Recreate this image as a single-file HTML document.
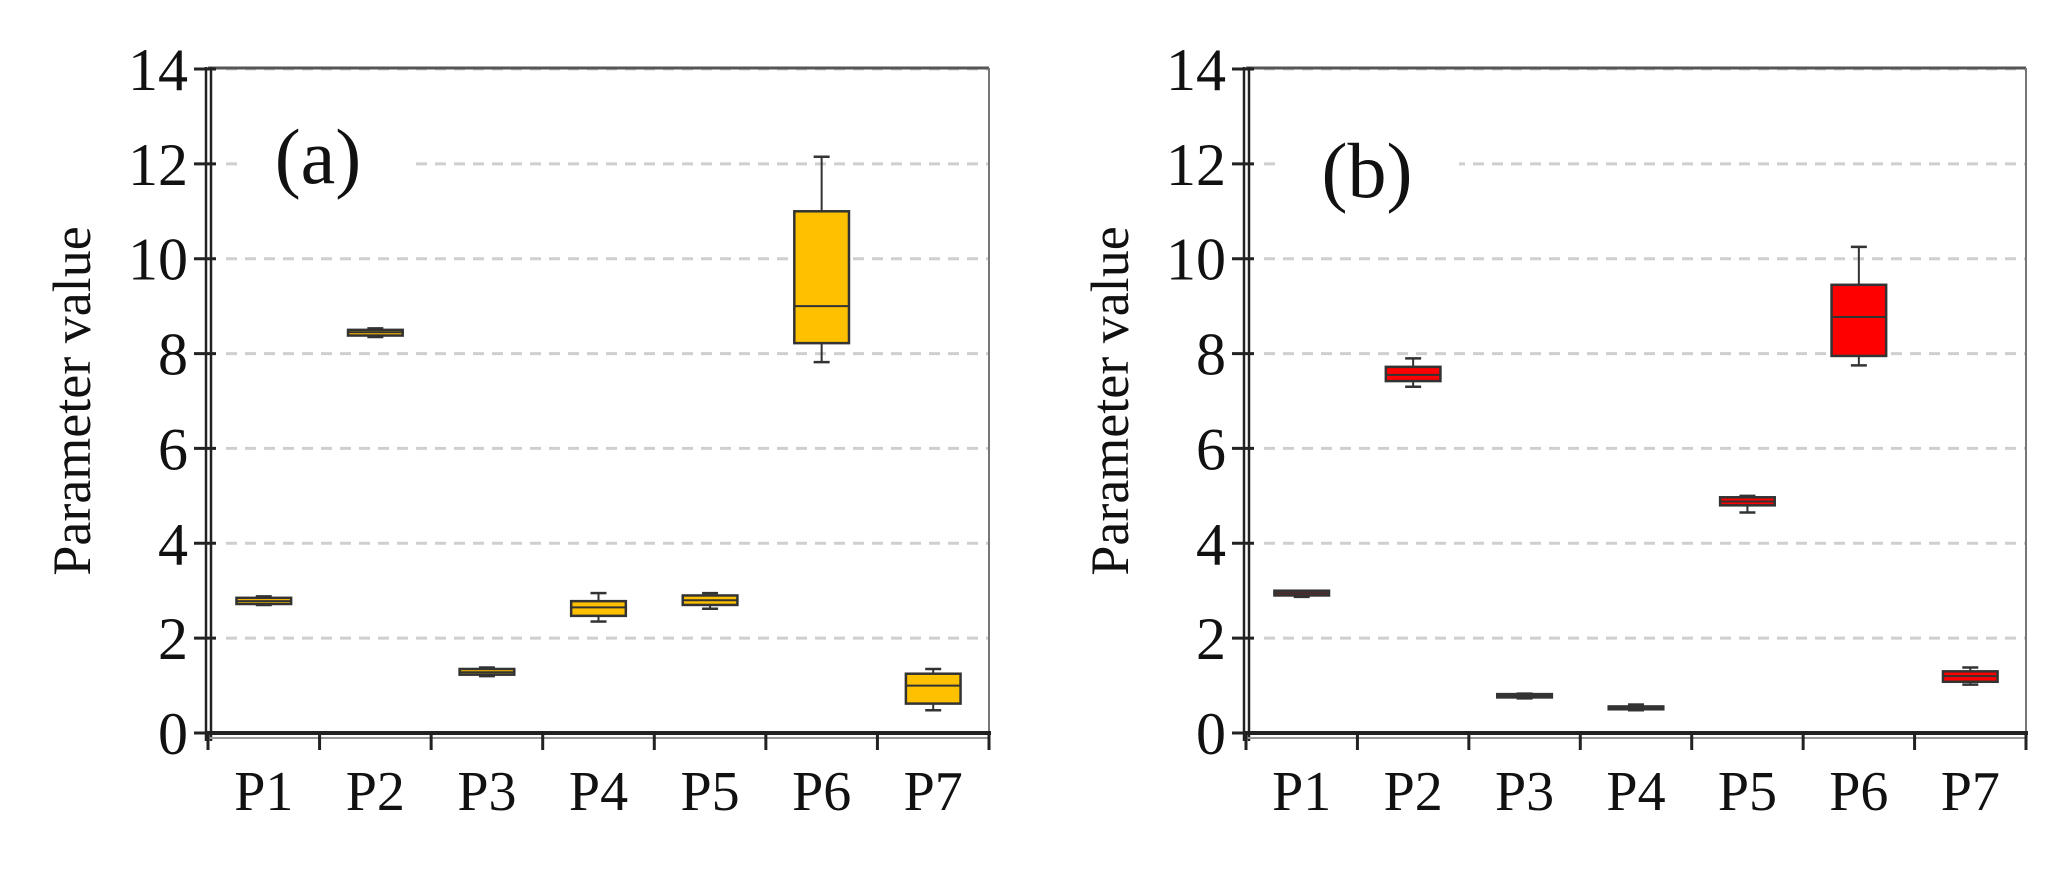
<!DOCTYPE html>
<html><head><meta charset="utf-8"><style>
html,body{margin:0;padding:0;background:#fff;}
svg{display:block;}
text{font-family:"Liberation Serif",serif;fill:#111;}
</style></head><body>
<svg id="fig" width="2067" height="887" viewBox="0 0 2067 887" xmlns="http://www.w3.org/2000/svg"></svg>
<script>
const categories = ["P1","P2","P3","P4","P5","P6","P7"];
const yTicks = [0,2,4,6,8,10,12,14];
// panel a: [whiskerLow, q1, median, q3, whiskerHigh]
const aLow  = [2.70, 8.35, 1.20, 2.35, 2.62, 7.82, 0.48];
const aQ1   = [2.72, 8.38, 1.23, 2.47, 2.70, 8.22, 0.62];
const aMed  = [2.78, 8.45, 1.28, 2.65, 2.80, 9.00, 1.00];
const aQ3   = [2.85, 8.50, 1.35, 2.78, 2.90, 11.00, 1.25];
const aHigh = [2.88, 8.53, 1.38, 2.95, 2.95, 12.15, 1.35];
// panel b
const bLow  = [2.87, 7.30, 0.73, 0.48, 4.65, 7.75, 1.02];
const bQ1   = [2.90, 7.42, 0.75, 0.50, 4.80, 7.95, 1.08];
const bMed  = [2.95, 7.55, 0.78, 0.53, 4.88, 8.77, 1.20];
const bQ3   = [3.00, 7.72, 0.82, 0.56, 4.97, 9.45, 1.30];
const bHigh = [3.00, 7.90, 0.83, 0.60, 5.00, 10.25, 1.38];

const NS="http://www.w3.org/2000/svg";
const svg=document.getElementById('fig');
function mk(tag,attrs,parent){const e=document.createElementNS(NS,tag);for(const k in attrs)e.setAttribute(k,attrs[k]);(parent||svg).appendChild(e);return e;}

function panel(key,x0,x1,label,labelX,labelY,maskX1,low,q1,med,q3,high,color){
  const g=mk('g',{});
  
  
  const yTop=69,yBot=733;
  const y=v=>yBot-(v/14)*(yBot-yTop);
  const bw=(x1-x0)/categories.length;
  const x=i=>x0+bw*(i+0.5);
  yTicks.forEach(t=>{ if(t===0)return;
    const l=mk('line',{x1:x0+18,x2:x1,y1:y(t),y2:y(t),stroke:'#cfcfcf','stroke-width':3,'stroke-dasharray':'11 8'},g);
    
    
  });
  mk('rect',{x:x0+30,y:y(12)-10,width:maskX1-x0-30,height:20,fill:'#fff'},g);
  mk('line',{x1:x0,x2:x1,y1:yTop-1,y2:yTop-1,stroke:'#555','stroke-width':3},g);
  mk('line',{x1:x1,x2:x1,y1:yTop-1,y2:yBot,stroke:'#777','stroke-width':2},g);
  const ya=mk('g',{},g);
  
  
  mk('line',{x1:x0-2,x2:x0-2,y1:yTop-2,y2:yBot+8,stroke:'#222','stroke-width':2.5},ya);
  mk('line',{x1:x0+3,x2:x0+3,y1:yTop-2,y2:yBot+8,stroke:'#222','stroke-width':2.5},ya);
  yTicks.forEach(t=>{
    mk('line',{x1:x0-14,x2:x0+8,y1:y(t),y2:y(t),stroke:'#222','stroke-width':3},ya);
    const tx=mk('text',{x:x0-20,y:y(t)+21,'font-size':60,'text-anchor':'end'},ya);
    tx.textContent=t;
    
    
  });
  const xa=mk('g',{},g);
  
  
  mk('line',{x1:x0-2,x2:x1+2,y1:yBot,y2:yBot,stroke:'#222','stroke-width':4},xa);
  mk('line',{x1:x0,x2:x1,y1:yBot+5,y2:yBot+5,stroke:'#999','stroke-width':2},xa);
  for(let i=0;i<=categories.length;i++){
    mk('line',{x1:x0+bw*i,x2:x0+bw*i,y1:yBot,y2:yBot+17,stroke:'#222','stroke-width':3},xa);
  }
  categories.forEach((c,i)=>{
    const tx=mk('text',{x:x(i),y:810,'font-size':56,'text-anchor':'middle'},xa);
    tx.textContent=c;
    
    
  });
  const boxW=bw*0.49, cap=16;
  categories.forEach((c,i)=>{
    const bg=mk('g',{},g);
    
    
    const cx=x(i);
    mk('line',{x1:cx,x2:cx,y1:y(high[i]),y2:y(low[i]),stroke:'#333','stroke-width':2},bg);
    mk('line',{x1:cx-cap/2,x2:cx+cap/2,y1:y(high[i]),y2:y(high[i]),stroke:'#333','stroke-width':2.5},bg);
    mk('line',{x1:cx-cap/2,x2:cx+cap/2,y1:y(low[i]),y2:y(low[i]),stroke:'#333','stroke-width':2.5},bg);
    mk('rect',{x:cx-boxW/2,y:y(q3[i]),width:boxW,height:Math.max(y(q1[i])-y(q3[i]),2),fill:color,stroke:'#333','stroke-width':2.5},bg);
    mk('line',{x1:cx-boxW/2,x2:cx+boxW/2,y1:y(med[i]),y2:y(med[i]),stroke:'#333','stroke-width':2},bg);
  });
  const pl=mk('text',{x:labelX,y:labelY,'font-size':78,'text-anchor':'middle'},g);
  pl.textContent=label;
  
  
  const yt=mk('text',{x:0,y:0,'font-size':54,'text-anchor':'middle',transform:`translate(${x0-118},401) rotate(-90)`},g);
  yt.textContent='Parameter value';
  
  
}
panel('a',208,989,'(a)',318,183,415,aLow,aQ1,aMed,aQ3,aHigh,'#FFC000');
panel('b',1246,2026,'(b)',1367,197,1459,bLow,bQ1,bMed,bQ3,bHigh,'#FF0000');
</script>
</body></html>
